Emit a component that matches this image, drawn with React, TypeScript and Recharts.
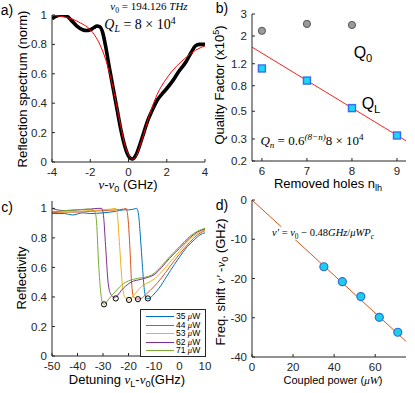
import React from "react";
import { ComposedChart, Line, Scatter, XAxis, YAxis } from "recharts";

const W = 415;
const H = 393;
const AXIS = "#262626";
const SANS = "'Liberation Sans', Arial, sans-serif";
const SERIF = "'Liberation Serif', 'Times New Roman', serif";

// a) reflection spectrum around the cavity mode
const measDetuning = [-4, -3.8, -3.5, -3.2, -3, -2.7, -2.4, -2.2, -2, -1.8, -1.65, -1.5, -1.35, -1.2, -1, -0.8, -0.6, -0.4, -0.2, 0, 0.2, 0.4, 0.6, 0.8, 1, 1.2, 1.5, 1.8, 2, 2.3, 2.6, 3, 3.3, 3.5, 3.7, 4];
const measRefl = [0.975, 0.99, 1.0, 0.99, 0.965, 0.925, 0.9, 0.895, 0.9, 0.915, 0.925, 0.92, 0.88, 0.79, 0.64, 0.5, 0.36, 0.22, 0.11, 0.04, 0.02, 0.05, 0.12, 0.2, 0.28, 0.34, 0.42, 0.47, 0.5, 0.55, 0.61, 0.68, 0.75, 0.79, 0.8, 0.8];
const fitDetuning = [-4, -3.5, -3, -2.5, -2, -1.5, -1.2, -1, -0.8, -0.6, -0.4, -0.2, 0, 0.2, 0.4, 0.6, 0.8, 1, 1.2, 1.5, 2, 2.5, 3, 3.5, 4];
const fitRefl = [1.0, 0.99, 0.975, 0.945, 0.9, 0.8, 0.7, 0.61, 0.5, 0.37, 0.24, 0.12, 0.05, 0.02, 0.04, 0.11, 0.19, 0.28, 0.36, 0.46, 0.57, 0.65, 0.71, 0.76, 0.79];

// b) quality factors vs removed holes
const removedHoles = [6, 7, 8, 9];
const q0Values = [2.2, 2.5, 2.45];
const qLValues = [1.1, 0.88, 0.53, 0.32];
const qFitHoles = [5.78, 9.2];
const qFitValues = [1.63, 0.29];

// c) reflectivity sweeps for several coupled powers
const powers = [35, 44, 53, 62, 71];
const powerColors = ["#0072BD", "#D95319", "#EDB120", "#7E2F8E", "#77AC30"];
const sweepDetuning = [
  [-50, -45, -42, -38, -35, -30, -25, -22, -20, -18, -16.8, -16, -15.3, -14.5, -13.8, -13, -12, -10, -8, -5, -2, 0, 3, 6, 8, 10],
  [-50, -45, -40, -35, -30, -25, -22, -21, -20.3, -19.5, -18.8, -18, -16.5, -15, -13, -10, -7, -4, 0, 4, 7, 10],
  [-50, -45, -40, -35, -30, -27, -25, -24.3, -23.5, -22.5, -21.5, -20, -18, -15, -12, -10, -7, -4, 0, 4, 7, 10],
  [-50, -48, -45, -40, -35, -32, -30.5, -29.8, -29, -28, -27, -25.5, -25, -22, -19, -15, -12, -10, -7, -4, 0, 4, 7, 10],
  [-50, -45, -40, -36, -34, -33, -32.5, -31.8, -31, -30.2, -29.5, -28, -25, -22, -18, -15, -12, -10, -7, -4, 0, 4, 7, 10],
];
const sweepRefl = [
  [0.965, 0.965, 0.955, 0.97, 0.965, 0.97, 0.98, 0.99, 0.99, 0.995, 1.0, 0.95, 0.8, 0.6, 0.45, 0.39, 0.39, 0.42, 0.46, 0.54, 0.62, 0.67, 0.74, 0.79, 0.82, 0.835],
  [0.97, 0.975, 0.975, 0.98, 0.985, 0.99, 0.995, 1.0, 0.95, 0.75, 0.5, 0.4, 0.385, 0.39, 0.42, 0.47, 0.53, 0.6, 0.69, 0.77, 0.82, 0.85],
  [0.98, 0.975, 0.98, 0.985, 0.99, 0.995, 1.0, 0.95, 0.75, 0.5, 0.4, 0.38, 0.41, 0.47, 0.5, 0.52, 0.57, 0.63, 0.71, 0.79, 0.83, 0.855],
  [1.0, 0.99, 0.985, 0.99, 0.995, 1.0, 1.0, 0.95, 0.75, 0.5, 0.42, 0.395, 0.4, 0.46, 0.5, 0.52, 0.535, 0.55, 0.6, 0.66, 0.73, 0.8, 0.84, 0.86],
  [0.975, 0.985, 0.99, 0.995, 0.99, 0.97, 0.9, 0.65, 0.45, 0.36, 0.35, 0.38, 0.44, 0.49, 0.52, 0.53, 0.54, 0.56, 0.61, 0.67, 0.74, 0.81, 0.845, 0.865],
];
const minDetuning = [-12.4, -16.3, -19.8, -25, -29.6];
const minRefl = [0.39, 0.385, 0.38, 0.39, 0.35];

// d) frequency shift vs coupled power
const shiftValues = [-17, -20.8, -24.6, -29.9, -33.7];
const shiftFitPower = [0, 75];
const shiftFitValues = [0, -36];

const zip = (xs: number[], ys: number[]) => ys.map((y, i) => ({ x: xs[i], y }));

const tickStyle = { fontSize: 11.5, fill: AXIS, fontFamily: SANS };

function Txt({ x, y, rot = 0, size = 13, font = SANS, bg, children }: any) {
  return (
    <div
      style={{
        position: "absolute",
        left: x,
        top: y,
        transform: `translate(-50%, -50%) rotate(${rot}deg)`,
        fontSize: size,
        fontFamily: font,
        color: "#000",
        whiteSpace: "nowrap",
        lineHeight: 1,
        background: bg,
        padding: bg ? "1px 2px" : 0,
      }}
    >
      {children}
    </div>
  );
}

const Sub = ({ children }: any) => (
  <span style={{ fontSize: "0.7em", position: "relative", top: "0.35em" }}>{children}</span>
);
const Sup = ({ children }: any) => (
  <span style={{ fontSize: "0.7em", position: "relative", top: "-0.5em" }}>{children}</span>
);
const I = ({ children }: any) => <span style={{ fontFamily: SERIF, fontStyle: "italic" }}>{children}</span>;

const chartStyle: React.CSSProperties = { position: "absolute", left: 0, top: 0 };

function Frame({ xDomain, xTicks, yDomain, yTicks, yScale, topColor = AXIS }: any) {
  return [
    <XAxis key="xb" type="number" dataKey="x" domain={xDomain} ticks={xTicks} allowDataOverflow height={30}
      tickSize={-3} tickMargin={9} tick={tickStyle} stroke={AXIS} />,
    <XAxis key="xt" xAxisId="top" orientation="top" type="number" dataKey="x" domain={xDomain} ticks={xTicks}
      allowDataOverflow height={0} tickSize={-3} tick={false} stroke={topColor} />,
    <YAxis key="yl" type="number" dataKey="y" domain={yDomain} ticks={yTicks} scale={yScale} allowDataOverflow width={30}
      tickSize={-3} tickMargin={8} tick={tickStyle} stroke={AXIS} />,
    <YAxis key="yr" yAxisId="right" orientation="right" type="number" dataKey="y" domain={yDomain} ticks={yTicks}
      scale={yScale} allowDataOverflow width={0} tickSize={-3} tick={false} stroke={AXIS} />,
  ];
}

const GrayDot = (p: any) => <circle cx={p.cx} cy={p.cy} r={3.6} fill="#9a9a9a" stroke="#555" strokeWidth={1} />;
const CyanSquare = (p: any) => (
  <rect x={p.cx - 3.5} y={p.cy - 3.5} width={7} height={7} fill="#17d8f5" stroke="#3b6cf0" strokeWidth={1.4} />
);
const OpenCircle = (p: any) => <circle cx={p.cx} cy={p.cy} r={2.6} fill="none" stroke="#000" strokeWidth={1} />;
const CyanDot = (p: any) => <circle cx={p.cx} cy={p.cy} r={4} fill="#1fcdea" stroke="#2a6fd6" strokeWidth={1.2} />;

export default function App() {
  return (
    <div style={{ position: "absolute", left: 0, top: 0, width: W, height: H, background: "#fff", overflow: "hidden" }}>
      {/* a) */}
      <ComposedChart width={W} height={H} style={chartStyle} margin={{ top: 15, right: 210, bottom: 201, left: 22 }}>
        {Frame({ xDomain: [-4, 4], xTicks: [-4, -2, 0, 2, 4], yDomain: [0, 1], yTicks: [0, 0.2, 0.4, 0.6, 0.8, 1], topColor: "#9a9a9a" })}
        <Line data={zip(measDetuning, measRefl)} dataKey="y" type="monotone" stroke="#000" strokeWidth={3.6} dot={false} isAnimationActive={false} />
        <Line data={zip(fitDetuning, fitRefl)} dataKey="y" type="monotone" stroke="#ff0000" strokeWidth={1} dot={false} isAnimationActive={false} />
      </ComposedChart>

      {/* b) */}
      <ComposedChart width={W} height={H} style={chartStyle} margin={{ top: 14, right: 9, bottom: 202, left: 222 }}>
        {Frame({ xDomain: [5.78, 9.2], xTicks: removedHoles, yDomain: [0.2, 3], yTicks: [0.2, 0.3, 0.5, 0.8, 1.2, 2, 3], yScale: "log" })}
        <Line data={zip(qFitHoles, qFitValues)} dataKey="y" stroke="#ff2020" strokeWidth={1} dot={false} isAnimationActive={false} />
        <Scatter data={zip(removedHoles, q0Values)} dataKey="y" shape={GrayDot} isAnimationActive={false} />
        <Scatter data={zip(removedHoles, qLValues)} dataKey="y" shape={CyanSquare} isAnimationActive={false} />
      </ComposedChart>

      {/* c) */}
      <ComposedChart width={W} height={H} style={chartStyle} margin={{ top: 201, right: 210, bottom: 7, left: 22 }}>
        {Frame({ xDomain: [-50, 10], xTicks: [-50, -40, -30, -20, -10, 0, 10], yDomain: [0, 1.05], yTicks: [0, 0.2, 0.4, 0.6, 0.8, 1] })}
        {powers.map((p, i) => (
          <Line key={p} name={`${p} μW`} data={zip(sweepDetuning[i], sweepRefl[i])} dataKey="y" type="monotone"
            stroke={powerColors[i]} strokeWidth={1} dot={false} isAnimationActive={false} />
        ))}
        <Scatter data={zip(minDetuning, minRefl)} dataKey="y" shape={OpenCircle} isAnimationActive={false} />
      </ComposedChart>

      {/* d) */}
      <ComposedChart width={W} height={H} style={chartStyle} margin={{ top: 200, right: 9, bottom: 6, left: 222 }}>
        {Frame({ xDomain: [0, 75], xTicks: [0, 20, 40, 60], yDomain: [-40, 0], yTicks: [-40, -30, -20, -10, 0] })}
        <Line data={zip(shiftFitPower, shiftFitValues)} dataKey="y" stroke="#D95319" strokeWidth={1} dot={false} isAnimationActive={false} />
        <Scatter data={zip(powers, shiftValues)} dataKey="y" shape={CyanDot} isAnimationActive={false} />
      </ComposedChart>

      {/* legend of c) */}
      <div style={{ position: "absolute", left: 140, top: 309, width: 64, height: 46, border: `1px solid ${AXIS}`, background: "#fff" }}>
        {powers.map((p, i) => (
          <div key={p} style={{ position: "absolute", left: 0, top: 2 + i * 8.6, height: 8, width: 64 }}>
            <div style={{ position: "absolute", left: 5, top: 4, width: 28, height: 1, background: powerColors[i] }} />
            <div style={{ position: "absolute", left: 35, top: 0, fontSize: 8.5, lineHeight: "8px", height: 8, fontFamily: SANS }}>
              {p} <span style={{ fontFamily: SERIF, fontStyle: "italic" }}>μ</span>W
            </div>
          </div>
        ))}
      </div>

      {/* panel letters and labels */}
      <Txt x={7} y={10} size={14}>a)</Txt>
      <Txt x={222} y={8} size={14}>b)</Txt>
      <Txt x={7} y={207} size={14}>c)</Txt>
      <Txt x={222} y={205} size={14}>d)</Txt>

      <Txt x={22} y={89} rot={-90}>Reflection spectrum (norm)</Txt>
      <Txt x={128} y={185}><I>ν</I>-<I>ν</I><Sub>0</Sub> (GHz)</Txt>
      <Txt x={149} y={6} size={11} font={SERIF} bg="#fff"><I>ν</I><Sub>0</Sub> = 194.126 <I>THz</I></Txt>
      <Txt x={140} y={25} size={14} font={SERIF}><I>Q</I><Sub><I>L</I></Sub> = 8 × 10<Sup>4</Sup></Txt>

      <Txt x={220} y={85} rot={-90}>Quality Factor (x10<Sup>5</Sup>)</Txt>
      <Txt x={328} y={184}>Removed holes n<Sub>lh</Sub></Txt>
      <Txt x={363} y={53} size={16}>Q<Sub>0</Sub></Txt>
      <Txt x={371} y={104} size={16}>Q<Sub>L</Sub></Txt>
      <Txt x={312} y={141} size={13} font={SERIF}><I>Q<Sub>n</Sub></I> = 0.6<Sup><I>(8−n)</I></Sup>8 × 10<Sup>4</Sup></Txt>

      <Txt x={21} y={278} rot={-90}>Reflectivity</Txt>
      <Txt x={127} y={380}>Detuning <I>ν</I><Sub>L</Sub>-<I>ν</I><Sub>0</Sub>(GHz)</Txt>

      <Txt x={221} y={282} rot={-90}>Freq. shift <I>ν′</I> -<I>ν</I><Sub>0</Sub> (GHz)</Txt>
      <Txt x={333} y={380} size={11}>Coupled power (<I>μW</I>)</Txt>
      <Txt x={323} y={233} size={10.5} font={SERIF} bg="#fff"><I>ν′</I> = <I>ν</I><Sub>0</Sub> − 0.48<I>GHz</I>/<I>μWP<Sub>c</Sub></I></Txt>
    </div>
  );
}
